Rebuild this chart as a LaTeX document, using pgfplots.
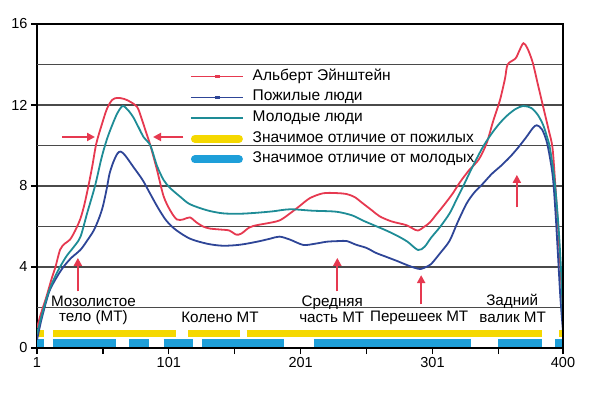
\documentclass[border=0pt]{standalone}
\usepackage{pgfplots}
\pgfplotsset{compat=1.18}
\usepackage{fontspec}
\setmainfont{Liberation Sans}
\usetikzlibrary{arrows.meta}
\definecolor{cred}{HTML}{E63950}
\definecolor{cblue}{HTML}{2E4597}
\definecolor{cteal}{HTML}{1E8C96}
\definecolor{byel}{HTML}{F5D800}
\definecolor{bblue}{HTML}{1E9FD9}
\definecolor{gridc}{HTML}{4A4A4A}
\pgfplotsset{
  lineleg/.style={legend image code/.code={\draw[##1,line width=1.6pt] (0pt,0pt) -- (52pt,0pt); \draw[##1,line width=2.6pt] (24pt,0pt) -- (29pt,0pt);}},
  barleg/.style={legend image code/.code={\draw[##1,line width=8pt,line cap=round] (4pt,0pt) -- (48pt,0pt);}},
}
\begin{document}
\begin{tikzpicture}
\begin{axis}[
  scale only axis, width=526pt, height=324pt,
  xmin=1, xmax=400, ymin=0, ymax=16,
  xtick={1,101,201,301,400}, minor xtick={51,151,251,351},
  ytick={0,4,8,12,16},
  extra y ticks={2,6,10,14}, extra y tick labels={},
  extra y tick style={major tick length=0pt},
  ymajorgrids=true,
  grid style={line width=1.3pt, color=gridc},
  axis line style={line width=1.6pt, black},
  tick style={line width=1.3pt, black},
  major tick length=6pt, minor tick length=6pt,
  tick align=outside, tick pos=left,
  ticklabel style={font=\fontsize{14.5}{16}\selectfont},
  /pgf/number format/assume math mode=true,
  unbounded coords=jump,
  legend cell align=left,
  legend style={at={(axis cs:117,13.83)}, anchor=north west, draw=none, fill=none,
    inner sep=0pt, row sep=3.7pt, column sep=8pt,
    font=\fontsize{15.5}{17}\selectfont,
    nodes={text height=11pt, text depth=4pt, inner sep=1pt}},
]
% significance bars
\addplot[color=byel, line width=7pt, forget plot] coordinates {
(1,0.72) (6,0.72) (nan,nan) (13,0.72) (106.5,0.72) (nan,nan) (115.6,0.72) (155,0.72) (nan,nan)
(160,0.72) (384,0.72) (nan,nan) (397,0.72) (400,0.72)};
\addplot[color=bblue, line width=7.5pt, forget plot] coordinates {
(1,0.25) (6,0.25) (nan,nan) (13,0.25) (61,0.25) (nan,nan) (71,0.25) (86,0.25) (nan,nan)
(97,0.25) (119,0.25) (nan,nan) (126,0.25) (188,0.25) (nan,nan) (211,0.25) (330,0.25) (nan,nan)
(351,0.25) (384,0.25) (nan,nan) (394,0.25) (400,0.25)};
% Einstein
\addplot[color=cred, line width=1.8pt, smooth, lineleg] coordinates {
(1,1.0) (4,1.7) (8,2.5) (12,3.4) (15,4.0) (18.5,4.85) (22,5.15) (26,5.35) (30,5.8) (34,6.4)
(37,7.1) (40,8.0) (43,9.0) (46,10.1) (50,11.0) (54,11.8) (58,12.25) (62,12.35) (67,12.3)
(72,12.15) (77,11.9) (80,11.4) (84,10.6) (87,10.0) (92,8.8) (97,7.5) (102,6.8) (107,6.35)
(112,6.35) (117,6.45) (122,6.2) (127,6.0) (132,5.9) (140,5.85) (147,5.8) (152,5.6) (156,5.65)
(162,5.95) (168,6.07) (175,6.15) (185,6.3) (193,6.65) (200,7.0) (208,7.4) (218,7.64) (228,7.65)
(236,7.6) (242,7.45) (248,7.15) (255,6.8) (261,6.5) (270,6.25) (281,6.07) (286,5.9) (290,5.8)
(295,6.0) (299,6.2) (304,6.6) (309,7.0) (316,7.6) (322,8.2) (329,8.8) (336,9.3) (342,10.1)
(347,11.2) (352,12.2) (356,13.3) (358,14.0) (364,14.3) (367,14.7) (370,15.05) (373,14.8)
(377,14.1) (381,13.0) (385,11.9) (389,10.8) (392,9.9) (394,8.2) (396,6.2) (398,4.0) (400,1.8)};
\addlegendentry{Альберт Эйнштейн}
% elderly
\addplot[color=cblue, line width=1.8pt, smooth, lineleg] coordinates {
(1,0.4) (4,1.3) (8,2.3) (11,2.9) (16,3.5) (21,4.0) (27,4.45) (34,4.85) (39,5.3) (44,5.8)
(48,6.4) (51,7.0) (54,7.9) (56,8.6) (59,9.2) (62,9.6) (64.5,9.7) (68,9.5) (74,8.95) (79,8.5)
(82,8.2) (87,7.6) (93,6.9) (99,6.3) (106,5.85) (117,5.4) (130,5.15) (142,5.05) (155,5.1)
(168,5.25) (178,5.4) (185,5.5) (193,5.35) (203,5.09) (212,5.15) (221,5.25) (230,5.28) (236,5.28)
(243,5.1) (251,4.94) (258,4.7) (266,4.5) (274,4.3) (281.5,4.1) (288,3.95) (292,3.9) (296,4.0)
(300,4.15) (307,4.7) (314,5.3) (320,6.2) (327,7.15) (333,7.7) (339,8.1) (346,8.6) (353,9.0)
(360,9.45) (366,9.9) (372,10.4) (377,10.85) (380,11.0) (384,10.8) (388,10.1) (392,8.6) (394,7.0)
(396,4.8) (398,2.5) (400,0.8)};
\addlegendentry{Пожилые люди}
% young
\addplot[color=cteal, line width=1.8pt, smooth, lineleg] coordinates {
(1,0.7) (5,1.7) (10,2.8) (16,3.7) (23,4.5) (29,5.0) (34,5.5) (39,6.65) (45,8.0) (50,9.4)
(54,10.3) (58,11.0) (62,11.6) (66,11.95) (70,11.75) (74,11.4) (78,10.9) (82,10.4) (87,10.0)
(92,9.0) (97,8.3) (102,7.9) (110,7.45) (117,7.1) (130,6.8) (142,6.65) (155,6.63) (168,6.68)
(180,6.75) (193,6.85) (210,6.78) (228,6.73) (240,6.55) (248,6.3) (257,6.05) (266,5.8) (274,5.55)
(282,5.25) (290,4.84) (295,5.0) (300,5.45) (307,6.0) (314,6.65) (319,7.3) (324,7.95) (331,8.9)
(339,9.9) (346,10.6) (352,11.1) (358,11.5) (364,11.8) (370,11.95) (376,11.85) (381,11.5)
(385,11.0) (388,10.4) (390,9.9) (393,8.6) (395,7.3) (397,5.6) (399,3.2) (400,1.2)};
\addlegendentry{Молодые люди}
% legend-only entries for bars
\addlegendimage{color=byel, barleg}
\addlegendentry{Значимое отличие от пожилых}
\addlegendimage{color=bblue, barleg}
\addlegendentry{Значимое отличие от молодых}
% arrows
\draw[cred, line width=2pt, -{Triangle[width=8pt,length=8pt]}] (axis cs:20,10.42) -- (axis cs:45,10.42);
\draw[cred, line width=2pt, -{Triangle[width=8pt,length=8pt]}] (axis cs:112,10.42) -- (axis cs:89,10.42);
\draw[cred, line width=2pt, -{Triangle[width=8pt,length=8pt]}] (axis cs:32,2.8) -- (axis cs:32,4.45);
\draw[cred, line width=2pt, -{Triangle[width=8pt,length=8pt]}] (axis cs:228.8,2.8) -- (axis cs:228.8,4.45);
\draw[cred, line width=2pt, -{Triangle[width=8pt,length=8pt]}] (axis cs:292.4,2.15) -- (axis cs:292.4,3.6);
\draw[cred, line width=2pt, -{Triangle[width=8pt,length=8pt]}] (axis cs:365,6.95) -- (axis cs:365,8.55);
% region labels
\begin{scope}[every node/.style={font=\fontsize{15.2}{17}\selectfont, inner sep=0pt}]
\node at (axis cs:43.8,2.3) {Мозолистое};
\node at (axis cs:43.8,1.5) {тело (МТ)};
\node at (axis cs:139.8,1.5) {Колено МТ};
\node at (axis cs:225,2.25) {Средняя};
\node at (axis cs:224.6,1.5) {часть МТ};
\node at (axis cs:290.9,1.5) {Перешеек МТ};
\node at (axis cs:361.5,2.3) {Задний};
\node at (axis cs:361.8,1.5) {валик МТ};
\end{scope}
\end{axis}
\draw[line width=1.6pt] (current axis.north west) -- (current axis.north east) -- (current axis.south east);
\pgfresetboundingbox
\path[use as bounding box] ([shift={(-37pt,-50pt)}]current axis.south west) rectangle ([shift={(33pt,24pt)}]current axis.north east);
\end{tikzpicture}
\end{document}
